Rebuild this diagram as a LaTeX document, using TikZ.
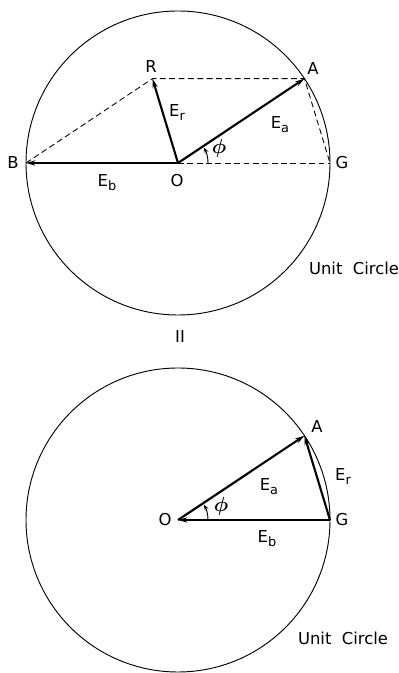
\documentclass[tikz,border=0pt]{standalone}
\usepackage{fontspec}
\setmainfont{DejaVu Sans}
\usetikzlibrary{arrows.meta,positioning,calc}

\newcommand{\sbx}[1]{\raisebox{-0.45ex}{\fontsize{11}{11}\selectfont #1}}

\begin{document}
\begin{tikzpicture}[
    x=0.03cm, y=0.03cm,
    circ/.style={line width=0.8pt},
    vec/.style={-{Stealth[length=8pt,width=4.5pt]}, line width=1.8pt},
    guide/.style={line width=0.75pt, dash pattern=on 5pt off 3pt},
    anglearc/.style={-{Stealth[length=5pt,width=3.5pt]}, line width=0.8pt},
    txt/.style={font=\fontsize{14}{16}\selectfont, inner sep=1pt},
    ang/.style={font=\fontsize{17}{19}\selectfont\boldmath, inner sep=1pt},
]

\useasboundingbox (0,0) rectangle (399,673);

% Upper circle
\coordinate (O1) at (178,510);
\coordinate (A1) at ($(O1)+(33.7:152)$);
\coordinate (B1) at ($(O1)+(180:152)$);
\coordinate (G1) at ($(O1)+(0:152)$);
\coordinate (R1) at ($(A1)+(B1)-(O1)$);

\draw[circ] (O1) circle[radius=152];
\draw[guide] (B1) -- (R1) -- (A1) -- (G1);
\draw[guide] (O1) -- (G1);
\draw[vec] (O1) -- (A1);
\draw[vec] (O1) -- (B1);
\draw[vec] (O1) -- (R1);
\draw[anglearc] ($(O1)+(0:30)$) arc[start angle=0, end angle=31, radius=30];

\node[txt] (Rt) at (151,606) {R};
\node[txt] (At) at (313,604) {A};
\node[txt] (Bt) at (13,510) {B};
\node[txt] (Gt) at (342,510) {G};
\node[txt] (Ot) at (177,492) {O};
\node[txt] (Er1) at (177,560) {E\sbx{r}};
\node[txt] (Ea1) at (280,548) {E\sbx{a}};
\node[txt] (Eb1) at (107,490) {E\sbx{b}};
\node[ang] (ph1) at (219,525) {$\phi$};
\node[txt] (uc1) at (354,405) {Unit\ \ Circle};

\node[txt] (two) at (180,336) {II};

% Lower circle
\coordinate (O2) at (178,153);
\coordinate (A2) at ($(O2)+(33.7:152)$);
\coordinate (G2) at ($(O2)+(0:152)$);

\draw[circ] (O2) circle[radius=152];
\draw[vec] (O2) -- (A2);
\draw[vec] (G2) -- (O2);
\draw[vec] (G2) -- (A2);
\draw[anglearc] ($(O2)+(0:30)$) arc[start angle=0, end angle=31, radius=30];

\node[txt] (A2t) at (317,246) {A};
\node[txt] (O2t) at (165,153) {O};
\node[txt] (G2t) at (342,153) {G};
\node[txt] (Ea2) at (269,186) {E\sbx{a}};
\node[txt] (Er2) at (343,196) {E\sbx{r}};
\node[txt] (Eb2) at (267,134) {E\sbx{b}};
\node[ang] (ph2) at (221,167) {$\phi$};
\node[txt] (uc2) at (343,35) {Unit\ \ Circle};

\end{tikzpicture}
\end{document}
